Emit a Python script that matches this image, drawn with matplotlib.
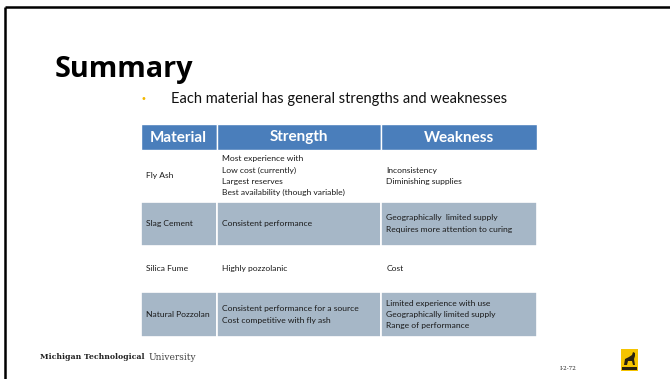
import matplotlib
matplotlib.use("Agg")
import matplotlib.pyplot as plt
from matplotlib.patches import Rectangle, Polygon

# ---- content ----
title = "Summary"
bullet = "Each material has general strengths and weaknesses"
headers = ["Material", "Strength", "Weakness"]
materials = ["Fly Ash", "Slag Cement", "Silica Fume", "Natural Pozzolan"]
strengths = [
    ["Most experience with", "Low cost (currently)", "Largest reserves",
     "Best availability (though variable)"],
    ["Consistent performance"],
    ["Highly pozzolanic"],
    ["Consistent performance for a source", "Cost competitive with fly ash"],
]
weaknesses = [
    ["Inconsistency", "Diminishing supplies"],
    ["Geographically  limited supply", "Requires more attention to curing"],
    ["Cost"],
    ["Limited experience with use", "Geographically limited supply",
     "Range of performance"],
]
footer_bold = "Michigan Technological"
footer_light = "University"
slide_no = "I-2-72"

# ---- layout ----
W, H = 670, 379
fig = plt.figure(figsize=(W / 100, H / 100), dpi=100)
ax = fig.add_axes([0, 0, 1, 1])
ax.set_xlim(0, W)
ax.set_ylim(H, 0)
ax.axis("off")
fig.canvas.draw()
renderer = fig.canvas.get_renderer()

def fit(t, width):
    bb = t.get_window_extent(renderer)
    t.set_fontsize(t.get_fontsize() * width / bb.width)
    return t

BODY = "Lato"
BLUE = "#4A7EBB"
GREY = "#A6B7C7"

# slide border (top + left)
ax.plot([5, W], [7, 7], color="black", lw=1.8, solid_capstyle="butt")
ax.plot([5, 5], [7, H], color="black", lw=1.8, solid_capstyle="butt")

# title + bullet
t = ax.text(55, 77, title, fontsize=22, fontweight="bold", family="Open Sans",
            va="baseline", ha="left", color="black")
fit(t, 138)
ax.text(143, 99, "•", fontsize=7, color="#F2B800", va="center", ha="center")
t = ax.text(171, 99, bullet, fontsize=9, family=BODY, va="center", ha="left",
            color="#111111")
fit(t, 335)

# table geometry
col_x = [140.5, 216.5, 380.5, 537]
row_y = [124, 150, 201.5, 245.5, 292, 337]
row_fill = ["white", GREY, "white", GREY]

# header
for j, h in enumerate(headers):
    ax.add_patch(Rectangle((col_x[j], row_y[0]), col_x[j + 1] - col_x[j],
                           row_y[1] - row_y[0], facecolor=BLUE,
                           edgecolor="white", lw=1.0))
for j, h in enumerate(headers):
    cx = (col_x[j] + col_x[j + 1]) / 2
    t = ax.text(cx, (row_y[0] + row_y[1]) / 2 + 0.5, h, fontsize=10,
                fontweight="bold", family=BODY, color="white",
                ha="center", va="center")
    if j == 0:
        fit(t, 57)
        hsize = t.get_fontsize()
    else:
        t.set_fontsize(hsize)

# body size fitted on the longest line
probe = ax.text(0, 0, strengths[0][3], fontsize=6, family=BODY)
fit(probe, 123)
bsize = probe.get_fontsize()
probe.remove()
line_h = 11.3

for i in range(len(materials)):
    y0, y1 = row_y[i + 1], row_y[i + 2]
    ym = (y0 + y1) / 2
    for j in range(3):
        if row_fill[i] != "white":
            ax.add_patch(Rectangle((col_x[j], y0), col_x[j + 1] - col_x[j],
                                   y1 - y0, facecolor=row_fill[i],
                                   edgecolor="white", lw=1.2))
    cells = [[materials[i]], strengths[i], weaknesses[i]]
    for j, lines in enumerate(cells):
        n = len(lines)
        for k, s in enumerate(lines):
            yy = ym + (k - (n - 1) / 2) * line_h
            ax.text(col_x[j] + 6, yy, s, fontsize=bsize, family=BODY,
                    color="#1a1a1a", ha="left", va="center")

# footer
t1 = ax.text(40, 357, footer_bold, fontsize=6, fontweight="bold",
             family="DejaVu Serif", va="center", ha="left", color="#222222")
fit(t1, 105)
t2 = ax.text(149, 357, footer_light, fontsize=6, family="DejaVu Serif",
             va="center", ha="left", color="#444444", fontweight="light")
fit(t2, 47)
t3 = ax.text(568, 368, slide_no, fontsize=5.5, family="DejaVu Serif",
             va="center", ha="center", color="#222222")
fit(t3, 17)

# logo
ax.add_patch(Rectangle((621, 349), 17, 22, facecolor="#F5C400",
                       edgecolor="none"))
ax.add_patch(Polygon([(624, 365), (625, 359), (629, 357), (632, 355),
                      (633, 352), (635, 353), (635, 356), (634, 359),
                      (635, 365), (633, 365), (632, 361), (628, 361),
                      (627, 365)], closed=True, facecolor="#2a2210",
                     edgecolor="none"))
ax.add_patch(Rectangle((622, 366.5), 15, 3, facecolor="#2a2210",
                       edgecolor="none"))

fig.savefig("out.png", dpi=100, facecolor="white")
